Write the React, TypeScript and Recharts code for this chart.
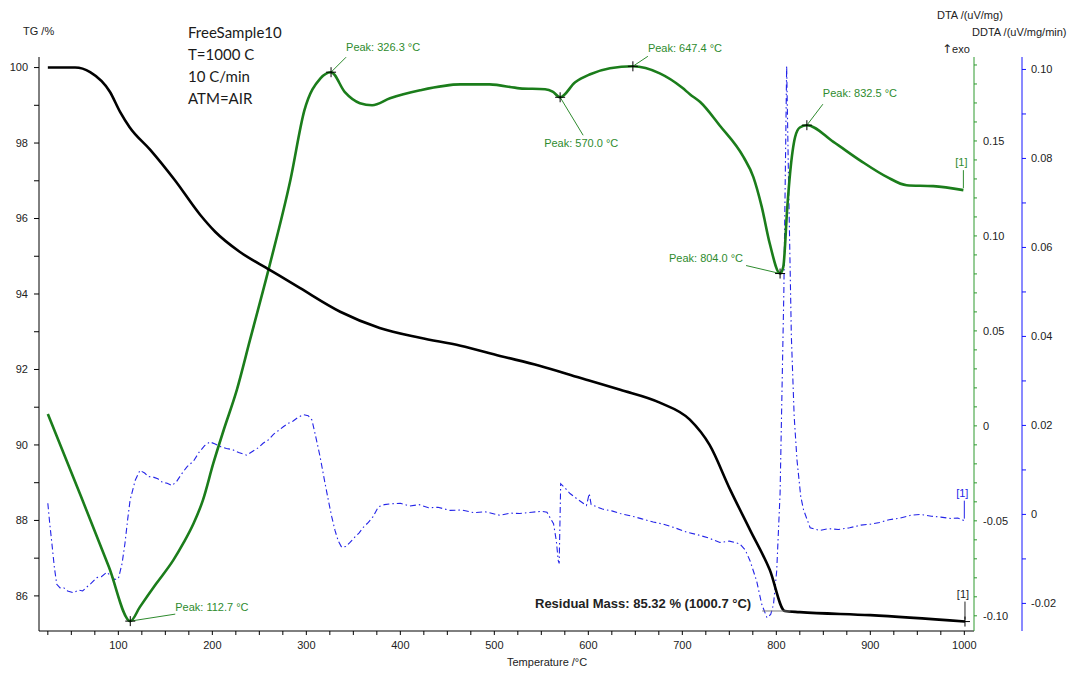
import {
  ComposedChart,
  Line,
  XAxis,
  YAxis,
  ReferenceDot,
  ReferenceLine,
} from 'recharts'

// TG: mass loss (%) against temperature (°C)
const tgTemp = [
  25, 54, 70, 91, 102, 112, 134, 160, 187, 203, 229, 261, 293, 336, 378, 421,
  464, 506, 548, 591, 634, 676, 708, 729, 751, 772, 793, 809, 825, 900, 1000.7,
]
const tgMass = [
  100.0, 100.0, 99.88, 99.36, 98.82, 98.42, 97.82, 97.02, 96.1, 95.65, 95.12,
  94.64, 94.16, 93.53, 93.1, 92.84, 92.63, 92.36, 92.1, 91.78, 91.46, 91.12,
  90.67, 90.0, 88.81, 87.75, 86.69, 85.6, 85.57, 85.49, 85.32,
]

// DTA signal (uV/mg)
const dtaTemp = [
  25, 60, 90, 112.7, 123, 140, 158.5, 169, 180, 190, 201, 212, 226, 240, 261,
  283, 298, 315, 326.3, 341, 357, 370, 389, 421, 464, 495, 527, 554, 562, 570.0,
  586, 602, 623, 647.4, 676, 700, 708, 719, 740, 765, 775.5, 784.5, 793, 804.0,
  807.4, 811.7, 814.6, 820, 825, 832.5, 860.7, 889, 917.5, 938.7, 967, 999,
]
const dtaSignal = [
  0.0062, -0.0368, -0.0743, -0.1028, -0.0953, -0.0833, -0.0707, -0.0619,
  -0.0514, -0.0391, -0.0198, -0.0023, 0.0188, 0.0451, 0.0846, 0.1293, 0.1662,
  0.183, 0.1862, 0.1757, 0.1699, 0.1688, 0.1725, 0.1767, 0.1798, 0.1798,
  0.1777, 0.1772, 0.176, 0.173, 0.1809, 0.1851, 0.1883, 0.1893, 0.1856, 0.178,
  0.1746, 0.1705, 0.158, 0.1416, 0.1311, 0.1153, 0.096, 0.0802, 0.0837, 0.1153,
  0.1328, 0.1521, 0.1571, 0.1583, 0.1495, 0.1398, 0.1311, 0.1267, 0.1262,
  0.1241,
]

// DDTA signal (uV/mg/min)
const ddtaTemp = [
  25, 27, 29, 32, 34.5, 38, 41.5, 46, 52, 58, 62, 66, 71, 77, 82, 87.7, 92, 96,
  100, 104, 107, 110, 112.5, 118, 123, 128, 132, 137, 142, 147, 152, 157, 162,
  167, 173, 180, 186, 192, 197.5, 203, 209, 215, 221, 228, 236.6, 243, 249, 254,
  260, 265, 270, 275.5, 281, 286, 291, 297, 302, 306, 310, 314.6, 319, 323.4,
  327, 330.5, 334, 337.6, 342, 346.5, 352, 356, 360.6, 366, 371, 376.6, 383,
  390, 400, 410, 420, 430, 440, 453, 465, 478, 490, 506, 517, 527, 540, 550,
  556, 560, 563, 566, 568, 569, 570.6, 575, 580.5, 588, 598, 601, 603, 615,
  625, 633.7, 645, 657, 669, 680, 692, 704.7, 715, 728, 740, 750, 761, 767, 772,
  779, 784.5, 790, 794, 797, 800.4, 804, 808, 811, 813, 816, 819, 822, 826, 829,
  836, 846, 856, 866, 878, 890, 900, 910, 920, 932, 943, 953, 965, 975, 985,
  993, 1000,
]
const ddtaSignal = [
  0.0025, -0.002, -0.0059, -0.012, -0.0157, -0.0165, -0.0164, -0.0172, -0.0176,
  -0.017, -0.0172, -0.0164, -0.0155, -0.0142, -0.014, -0.013, -0.0138, -0.0146,
  -0.0145, -0.011, -0.0066, -0.001, 0.0032, 0.0077, 0.0099, 0.0093, 0.0085,
  0.0084, 0.008, 0.0072, 0.007, 0.0065, 0.0074, 0.009, 0.0107, 0.012, 0.014,
  0.0155, 0.0163, 0.0158, 0.0152, 0.0148, 0.0146, 0.0139, 0.0133, 0.0142,
  0.015, 0.016, 0.0168, 0.018, 0.0188, 0.0197, 0.0205, 0.021, 0.0218, 0.0224,
  0.0222, 0.0212, 0.0175, 0.013, 0.008, 0.0032, -0.0005, -0.0036, -0.006,
  -0.0074, -0.0072, -0.0063, -0.005, -0.0042, -0.0029, -0.0018, -0.0005,
  0.0017, 0.0022, 0.0024, 0.0025, 0.0019, 0.0022, 0.0015, 0.0016, 0.0009,
  0.001, 0.0004, 0.0006, -0.0002, 0.0003, 0.0002, 0.0005, 0.0007, 0.0005,
  -0.001, -0.0021, -0.006, -0.0104, -0.011, 0.0069, 0.006, 0.0047, 0.0035,
  0.002, 0.0047, 0.0022, 0.0012, 0.0008, 0.0002, -0.0003, -0.001, -0.0017,
  -0.0022, -0.003, -0.004, -0.0045, -0.0053, -0.0063, -0.006, -0.0066, -0.008,
  -0.0104, -0.0149, -0.0202, -0.0232, -0.0225, -0.0202, -0.0127, 0.0047, 0.05,
  0.1008, 0.075, 0.04, 0.022, 0.0122, 0.004, 0.001, -0.003, -0.0036, -0.0032,
  -0.0034, -0.003, -0.0024, -0.0022, -0.0018, -0.0012, -0.0008, -0.0002, 0,
  -0.0004, -0.0006, -0.0009, -0.0008, -0.0014,
]

const peakTemps = [112.7, 326.3, 570.0, 647.4, 804.0, 832.5]
const residualMass = 85.32
const residualTemp = 1000.7

const xTicks = Array.from({ length: 40 }, (_, i) => 25 + i * 25)
const tgTicks = [86, 87, 88, 89, 90, 91, 92, 93, 94, 95, 96, 97, 98, 99, 100]
const dtaTicks = Array.from({ length: 30 }, (_, i) => (i - 10) / 100)
const ddtaTicks = Array.from({ length: 13 }, (_, i) => (i - 2) / 100)

const tgData = tgTemp.map((t, i) => ({ t, v: tgMass[i] }))
const dtaData = dtaTemp.map((t, i) => ({ t, v: dtaSignal[i] }))
const ddtaData = ddtaTemp.map((t, i) => ({ t, v: ddtaSignal[i] }))

// right-hand axes are laid out by id: r1 sits next to the plot, r2 outside it
const DTA_AXIS = 'r1-dta'
const DDTA_AXIS = 'r2-ddta'

const FONT = "'Liberation Sans', Arial, sans-serif"
const GREEN = '#1b7d1b'
const GREEN_AXIS = '#2e9a2e'
const LABEL_GREEN = '#2e8b2e'
const BLUE = '#2424e8'
const BLUE_AXIS = '#1414ff'
const TICK = { fontSize: 11, fill: '#222', fontFamily: FONT }

// where each peak's text and leader line sit relative to the peak cross
const PEAK_POS = [
  { lx: 45, ly: -7, tx: 45, ty: -10, anchor: 'start' },
  { lx: 15, ly: -15, tx: 15, ty: -21, anchor: 'start' },
  { lx: 23, ly: 38, tx: -16, ty: 50, anchor: 'start' },
  { lx: 15, ly: -10, tx: 15, ty: -14, anchor: 'start' },
  { lx: -34, ly: -8, tx: -37, ty: -12, anchor: 'end' },
  { lx: 16, ly: -21, tx: 16, ty: -28, anchor: 'start' },
]

const fmtSignal = (v: number) => (Math.abs(v) < 1e-9 ? '0' : v.toFixed(2))

function Cross({ cx, cy }: { cx: number; cy: number }) {
  return (
    <g stroke="#000" strokeWidth={1}>
      <line x1={cx - 5} y1={cy} x2={cx + 5} y2={cy} />
      <line x1={cx} y1={cy - 5} x2={cx} y2={cy + 5} />
    </g>
  )
}

function PeakMark({ cx, cy, temp, pos }: any) {
  return (
    <g>
      <line
        x1={cx}
        y1={cy}
        x2={cx + pos.lx}
        y2={cy + pos.ly}
        stroke={LABEL_GREEN}
        strokeWidth={1}
      />
      <Cross cx={cx} cy={cy} />
      <text
        x={cx + pos.tx}
        y={cy + pos.ty}
        textAnchor={pos.anchor}
        fontSize={11}
        fontFamily={FONT}
        fill={LABEL_GREEN}
      >
        {`Peak: ${temp.toFixed(1)} °C`}
      </text>
    </g>
  )
}

// "[1]" flag at the end of each curve
function EndFlag({ cx, cy, color, cross }: any) {
  return (
    <g>
      <line x1={cx} y1={cy - 2} x2={cx} y2={cy - 20} stroke={color} strokeWidth={1} />
      {cross && <Cross cx={cx} cy={cy} />}
      <text
        x={cx - 2}
        y={cy - 24}
        textAnchor="middle"
        fontSize={11}
        fontFamily={FONT}
        fill={color}
      >
        [1]
      </text>
    </g>
  )
}

function Note({ x, y, size = 11, children, style }: any) {
  return (
    <div
      style={{
        position: 'absolute',
        left: x,
        top: y - size / 2,
        fontSize: size,
        lineHeight: `${size}px`,
        whiteSpace: 'nowrap',
        fontFamily: FONT,
        color: '#222',
        ...style,
      }}
    >
      {children}
    </div>
  )
}

export default function App() {
  const lastDta = dtaData[dtaData.length - 1]
  const lastDdta = ddtaData[ddtaData.length - 1]

  return (
    <div
      style={{
        position: 'absolute',
        left: 0,
        top: 0,
        width: 1079,
        height: 673,
        background: '#fff',
        fontFamily: FONT,
      }}
    >
      <ComposedChart width={1079} height={673} margin={{ top: 57, right: 9, bottom: 12, left: 0 }}>
        <XAxis
          type="number"
          dataKey="t"
          domain={[15.6, 1010.3]}
          allowDataOverflow
          ticks={xTicks}
          interval={0}
          tickFormatter={(v: number) => (v % 100 === 0 ? String(v) : '')}
          tick={TICK}
          tickSize={4}
          tickMargin={6}
          height={30}
          axisLine={{ stroke: '#000' }}
          tickLine={{ stroke: '#000' }}
        />
        <YAxis
          yAxisId="tg"
          orientation="left"
          width={39}
          type="number"
          domain={[85.07, 100.28]}
          allowDataOverflow
          ticks={tgTicks}
          interval={0}
          tickFormatter={(v: number) => (v % 2 === 0 ? String(v) : '')}
          tick={TICK}
          tickSize={5}
          tickMargin={6}
          axisLine={{ stroke: '#000' }}
          tickLine={{ stroke: '#000' }}
        />
        <YAxis
          yAxisId={DTA_AXIS}
          orientation="right"
          width={48}
          type="number"
          domain={[-0.108, 0.1942]}
          allowDataOverflow
          ticks={dtaTicks}
          interval={0}
          tickFormatter={(v: number) =>
            Math.round(v * 100) % 5 === 0 ? fmtSignal(v) : ''
          }
          tick={TICK}
          tickSize={3}
          tickMargin={6}
          axisLine={{ stroke: GREEN_AXIS }}
          tickLine={{ stroke: GREEN_AXIS }}
        />
        <YAxis
          yAxisId={DDTA_AXIS}
          orientation="right"
          width={48}
          type="number"
          domain={[-0.0262, 0.1028]}
          allowDataOverflow
          ticks={ddtaTicks}
          interval={0}
          tickFormatter={(v: number) =>
            Math.round(v * 100) % 2 === 0 ? fmtSignal(v) : ''
          }
          tick={TICK}
          tickSize={4}
          tickMargin={5}
          axisLine={{ stroke: BLUE_AXIS }}
          tickLine={{ stroke: BLUE_AXIS }}
        />

        <Line
          data={ddtaData}
          yAxisId={DDTA_AXIS}
          dataKey="v"
          type="linear"
          stroke={BLUE}
          strokeWidth={1.1}
          strokeDasharray="6 3 1.5 3"
          dot={false}
          activeDot={false}
          isAnimationActive={false}
        />
        <Line
          data={dtaData}
          yAxisId={DTA_AXIS}
          dataKey="v"
          type="monotone"
          stroke={GREEN}
          strokeWidth={2.6}
          dot={false}
          activeDot={false}
          isAnimationActive={false}
        />
        <Line
          data={tgData}
          yAxisId="tg"
          dataKey="v"
          type="monotone"
          stroke="#000"
          strokeWidth={2.6}
          dot={false}
          activeDot={false}
          isAnimationActive={false}
        />

        {/* residual-mass baseline */}
        <ReferenceLine
          yAxisId="tg"
          segment={[
            { x: 785, y: 85.6 },
            { x: 815, y: 85.6 },
          ]}
          stroke="#777"
          strokeWidth={1}
        />

        {peakTemps.map((t, i) => (
          <ReferenceDot
            key={t}
            x={t}
            y={dtaSignal[dtaTemp.indexOf(t)]}
            yAxisId={DTA_AXIS}
            r={0}
            shape={(p: any) => <PeakMark cx={p.cx} cy={p.cy} temp={t} pos={PEAK_POS[i]} />}
          />
        ))}

        <ReferenceDot
          x={residualTemp}
          y={residualMass}
          yAxisId="tg"
          r={0}
          shape={(p: any) => <EndFlag cx={p.cx} cy={p.cy} color="#222" cross />}
        />
        <ReferenceDot
          x={lastDta.t}
          y={lastDta.v}
          yAxisId={DTA_AXIS}
          r={0}
          shape={(p: any) => <EndFlag cx={p.cx} cy={p.cy} color={LABEL_GREEN} />}
        />
        <ReferenceDot
          x={lastDdta.t}
          y={lastDdta.v}
          yAxisId={DDTA_AXIS}
          r={0}
          shape={(p: any) => <EndFlag cx={p.cx} cy={p.cy} color={BLUE} />}
        />
      </ComposedChart>

      <Note x={23} y={31}>TG /%</Note>
      <Note x={937} y={15}>DTA /(uV/mg)</Note>
      <Note x={972} y={32}>DDTA /(uV/mg/min)</Note>
      <Note x={942} y={49} size={13} style={{ fontFamily: "'DejaVu Sans', sans-serif", fontSize: 12 }}>
        ↑<span style={{ fontFamily: FONT, fontSize: 11 }}>exo</span>
      </Note>
      <Note x={507} y={662}>Temperature /°C</Note>

      {[`FreeSample10`, `T=1000 C`, `10 C/min`, `ATM=AIR`].map((line, i) => (
        <Note key={line} x={188} y={32 + i * 22.3} size={15} style={{ fontFamily: "Lato, 'Open Sans', sans-serif", color: '#1a1a1a' }}>
          {line}
        </Note>
      ))}

      <Note x={535} y={603} size={13} style={{ fontWeight: 'bold', color: '#222' }}>
        {`Residual Mass: ${residualMass.toFixed(2)} % (${residualTemp.toFixed(1)} °C)`}
      </Note>
    </div>
  )
}
